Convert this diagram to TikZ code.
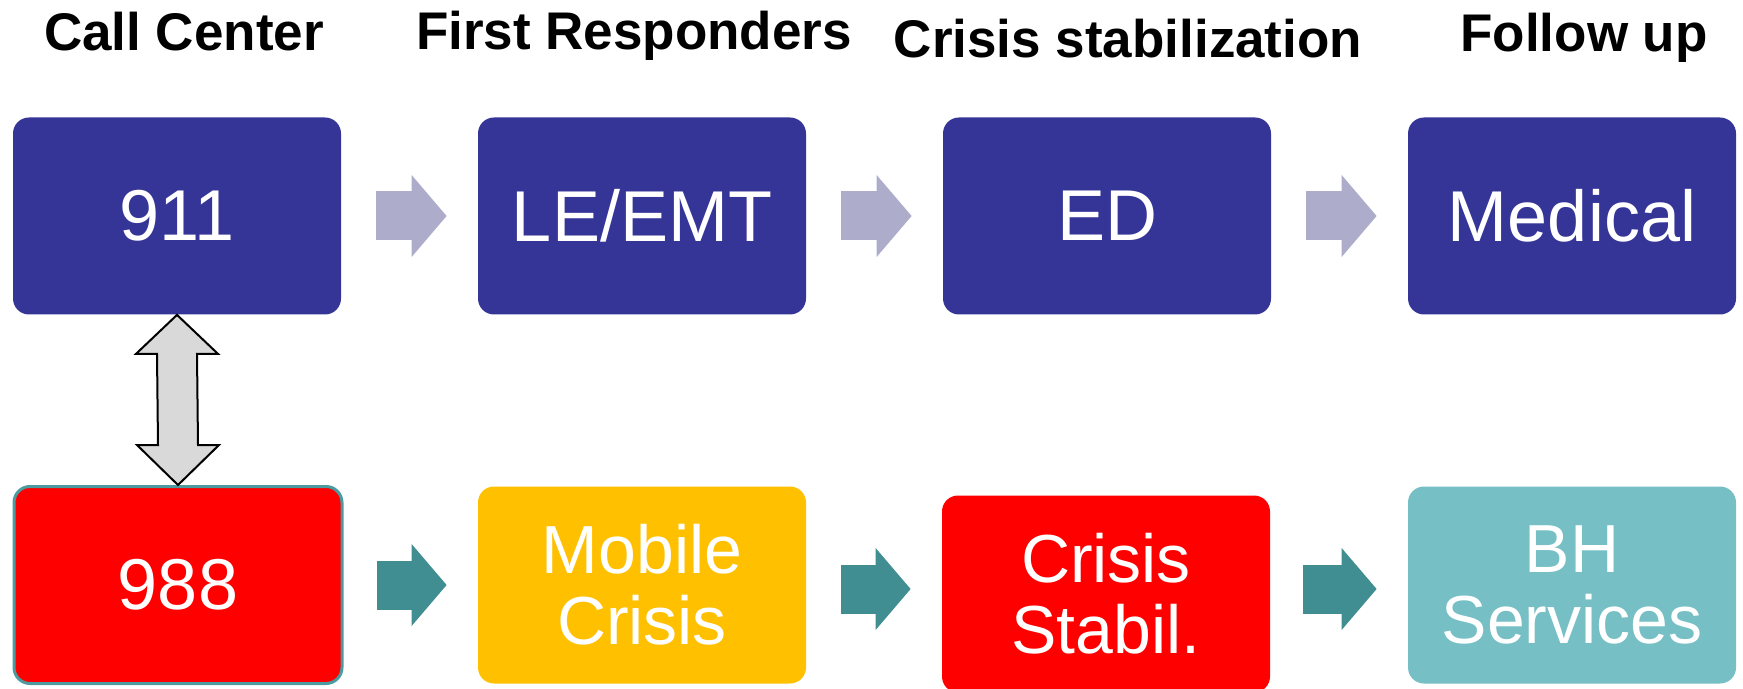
\documentclass[tikz,border=0pt]{standalone}
\usepackage{fontspec}
\setmainfont{Liberation Sans}
\usetikzlibrary{arrows.meta,calc}
\definecolor{navy}{RGB}{53,53,152}
\definecolor{lavender}{RGB}{173,173,203}
\definecolor{arrowteal}{RGB}{64,141,146}
\definecolor{ringteal}{RGB}{75,155,160}
\definecolor{cyanbox}{RGB}{117,191,197}
\definecolor{amber}{RGB}{255,192,0}

\begin{document}
\begin{tikzpicture}[x=0.5pt,y=-0.5pt]
\tikzstyle{every node}+=[inner sep=0pt]
\tikzstyle{box}=[rounded corners=8pt, minimum width=164pt, minimum height=98.5pt, text=white, align=center, font=\fontsize{36}{40}\selectfont]
\tikzstyle{twoline}=[font=\fontsize{34}{35.5}\selectfont]
\tikzstyle{head}=[anchor=base, font=\fontsize{26.5}{30}\selectfont\bfseries]
\tikzstyle{blk}=[line width=24.5pt, -{Triangle[length=17.5pt,width=41pt,line width=0pt]}]
\tikzstyle{dbl}=[fill=gray!30, draw=black, line width=1pt, line join=miter]
\useasboundingbox (0,0) rectangle (1743,689);
\node[head] (hcall) at (184,51) {Call Center};
\node[head] (hfirst) at (634,50) {First Responders};
\node[head] (hcrisis) at (1128,58) {Crisis stabilization};
\node[head] (hfollow) at (1584,52) {Follow up};
\node[box, fill=navy] (n911) at (177,216) {911};
\node[box, fill=navy] (nle) at (642,216) {LE/EMT};
\node[box, fill=navy] (ned) at (1107,216) {ED};
\node[box, fill=navy] (nmed) at (1572,216) {Medical};
\node[box, fill=red, draw=ringteal, line width=1.5pt] (n988) at (178,585) {988};
\node[box, twoline, fill=amber] (nmob) at (642,585) {Mobile\\Crisis};
\node[box, twoline, fill=red] (ncs) at (1106,594) {Crisis\\Stabil.};
\node[box, twoline, fill=cyanbox] (nbh) at (1572,585) {BH\\Services};
\draw[blk, lavender] ($(n911.east)+(35,0)$) -- ($(nle.west)+(-31,0)$);
\draw[blk, lavender] ($(nle.east)+(35,0)$) -- ($(ned.west)+(-31,0)$);
\draw[blk, lavender] ($(ned.east)+(35,0)$) -- ($(nmed.west)+(-31,0)$);
\draw[blk, arrowteal] ($(n988.east)+(33,0)$) -- ($(nmob.west)+(-31,0)$);
\draw[blk, arrowteal] ($(nmob.east)+(35,4)$) -- ($(nmob.east -| ncs.west)+(-31,4)$);
\draw[blk, arrowteal] ($(ncs.east)+(33,-5)$) -- ($(ncs.east -| nbh.west)+(-31,-5)$);
\draw[dbl] (n911.south) -- ++(41,39) -- ++(-21,0) -- ($(n988.north)+(20,-40)$) -- ++(21,0) -- (n988.north) -- ++(-41,-40) -- ++(21,0) -- ($(n911.south)+(-20,39)$) -- ++(-21,0) -- cycle;
\end{tikzpicture}
\end{document}
